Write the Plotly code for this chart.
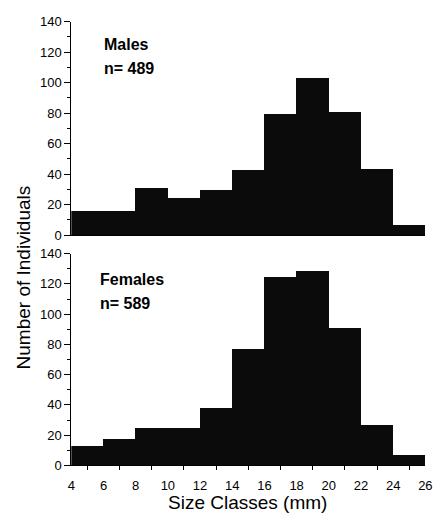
import plotly.graph_objects as go

# ---- data ----
size_class_starts = [4, 6, 8, 10, 12, 14, 16, 18, 20, 22, 24]
bin_width = 2
males_counts = [16, 16, 31, 25, 30, 43, 80, 103, 81, 44, 7]
females_counts = [13, 18, 25, 25, 38, 77, 125, 129, 91, 27, 7]
x_tick_values = [4, 6, 8, 10, 12, 14, 16, 18, 20, 22, 24, 26]
y_tick_values = [0, 20, 40, 60, 80, 100, 120, 140]
panel_labels = [("Males", "n= 489"), ("Females", "n= 589")]

W, H = 447, 521
FONT = "Liberation Sans, Arial, sans-serif"
BAR_COLOR = "#0b0b0b"

def px_x(p):
    return p / W

def px_y(p):
    return 1 - p / H

fig = go.Figure()
fig.add_trace(go.Bar(x=size_class_starts, y=males_counts, width=bin_width, offset=0,
                     marker=dict(color=BAR_COLOR, line=dict(width=0)),
                     xaxis="x", yaxis="y", showlegend=False))
fig.add_trace(go.Bar(x=size_class_starts, y=females_counts, width=bin_width, offset=0,
                     marker=dict(color=BAR_COLOR, line=dict(width=0)),
                     xaxis="x2", yaxis="y2", showlegend=False))

x_dom = [px_x(69), px_x(432)]
yaxis_common = dict(
    range=[0, 140], tickmode="array", tickvals=y_tick_values,
    ticks="outside", ticklen=6, tickwidth=1, tickcolor="black",
    showline=True, linecolor="black", linewidth=1,
    showgrid=False, zeroline=False,
    tickfont=dict(family=FONT, size=13, color="black"),
    minor=dict(tickmode="linear", tick0=0, dtick=10, ticks="outside",
               ticklen=3, tickcolor="black", showgrid=False),
)

fig.update_layout(
    width=W, height=H,
    margin=dict(l=0, r=0, t=0, b=0),
    paper_bgcolor="white", plot_bgcolor="white",
    bargap=0,
    font=dict(family=FONT, color="black"),
    xaxis=dict(domain=x_dom, anchor="y", range=[4, 26],
               showticklabels=False, ticks="", showline=True,
               linecolor="black", linewidth=1, showgrid=False, zeroline=False),
    yaxis=dict(domain=[px_y(235), px_y(15)], anchor="x", **yaxis_common),
    xaxis2=dict(domain=x_dom, anchor="y2", range=[4, 26],
                tickmode="array", tickvals=x_tick_values,
                ticks="", ticklabelstandoff=8,
                tickfont=dict(family=FONT, size=13, color="black"),
                minor=dict(tickmode="linear", tick0=5, dtick=2, ticks="outside",
                           ticklen=4, tickcolor="black", showgrid=False),
                showline=True, linecolor="black", linewidth=1,
                showgrid=False, zeroline=False),
    yaxis2=dict(domain=[px_y(472), px_y(254)], anchor="x2", **yaxis_common),
)

annotations = [
    dict(text="<b>%s</b>" % panel_labels[0][0], x=px_x(100), y=px_y(38.5)),
    dict(text="<b>%s</b>" % panel_labels[0][1], x=px_x(100), y=px_y(63)),
    dict(text="<b>%s</b>" % panel_labels[1][0], x=px_x(96), y=px_y(281)),
    dict(text="<b>%s</b>" % panel_labels[1][1], x=px_x(96), y=px_y(305)),
]
for a in annotations:
    fig.add_annotation(xref="paper", yref="paper", xanchor="left", yanchor="middle",
                       showarrow=False, font=dict(family=FONT, size=16, color="black"), **a)

fig.add_annotation(text="Number of Individuals", xref="paper", yref="paper",
                   x=px_x(20), y=px_y(279), textangle=-90, showarrow=False,
                   xanchor="center", yanchor="middle",
                   font=dict(family=FONT, size=19, color="black"))
fig.add_annotation(text="Size Classes (mm)", xref="paper", yref="paper",
                   x=px_x(250), y=px_y(510), showarrow=False,
                   xanchor="center", yanchor="middle",
                   font=dict(family=FONT, size=19, color="black"))

fig.write_html("out.html")
